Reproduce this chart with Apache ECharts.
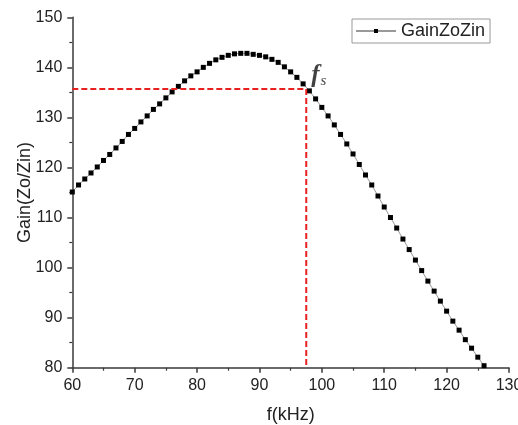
<!DOCTYPE html>
<html>
<head>
<meta charset="utf-8">
<script src="https://cdn.jsdelivr.net/npm/echarts@6/dist/echarts.min.js"></script>
<style>
html,body{margin:0;padding:0;background:#fff;}
#chart{width:518px;height:425px;}
</style>
</head>
<body>
<div id="chart"></div>
<script>
var freqs = [60,61,62,63,64,65,66,67,68,69,70,71,72,73,74,75,76,77,78,79,80,81,82,83,84,85,86,87,88,89,90,91,92,93,94,95,96,97,98,99,100,101,102,103,104,105,106,107,108,109,110,111,112,113,114,115,116,117,118,119,120,121,122,123,124,125,126];
var gainValues = [115.1,116.5,117.7,118.9,120.1,121.4,122.6,123.9,125.2,126.6,127.8,129.1,130.3,131.6,132.7,133.9,135.1,136.2,137.3,138.3,139.1,140.0,140.8,141.5,142.0,142.4,142.7,142.8,142.8,142.6,142.4,142.1,141.6,141.0,140.1,139.1,138.0,136.7,135.3,133.7,132.0,130.3,128.5,126.6,124.7,122.7,120.6,118.5,116.5,114.3,112.1,110.0,107.9,105.7,103.6,101.5,99.4,97.3,95.3,93.3,91.3,89.3,87.5,85.6,83.9,82.1,80.4];
var fsFreq = 97.5;
var fsGain = 135.7;
var xTicks = {min: 60, max: 130, step: 10};
var yTicks = {min: 80, max: 150, step: 10};
var seriesName = 'GainZoZin';

var gainData = freqs.map(function (f, i) { return [f, gainValues[i]]; });
var markerData = [[xTicks.min, fsGain], [fsFreq, fsGain], [fsFreq, yTicks.min]];

var chart = echarts.init(document.getElementById('chart'), null, {renderer: 'canvas'});
var axisCommon = {
  axisLine: {show: true, onZero: false, lineStyle: {color: '#3a3a3a', width: 1.5}},
  axisTick: {show: true, inside: false, length: 5, lineStyle: {color: '#3a3a3a', width: 1.5}},
  minorTick: {show: true, splitNumber: 2, length: 3, lineStyle: {color: '#3a3a3a', width: 1.2}},
  splitLine: {show: false},
  axisLabel: {color: '#222', fontSize: 16, fontFamily: 'Liberation Sans', margin: 10},
  nameLocation: 'middle',
  nameMoveOverlap: false,
  nameTextStyle: {color: '#222', fontSize: 18, fontFamily: 'Liberation Sans'}
};
var option = {
  backgroundColor: '#fff',
  animation: false,
  grid: {left: 72.3, right: 9, top: 17.3, bottom: 57.3, containLabel: false, outerBoundsMode: 'none'},
  legend: {
    data: [seriesName],
    left: 352, top: 19,
    itemWidth: 40, itemHeight: 5,
    itemGap: 6,
    padding: [3, 5, 3, 3],
    borderColor: '#999', borderWidth: 1,
    textStyle: {color: '#222', fontSize: 18, fontFamily: 'Liberation Sans'}
  },
  xAxis: Object.assign({}, axisCommon, {
    type: 'value', min: xTicks.min, max: xTicks.max, interval: xTicks.step,
    name: 'f(kHz)', nameGap: 38
  }),
  yAxis: Object.assign({}, axisCommon, {
    type: 'value', min: yTicks.min, max: yTicks.max, interval: yTicks.step,
    name: 'Gain(Zo/Zin)', nameGap: 38
  }),
  series: [
    {
      name: seriesName, type: 'line', data: gainData,
      symbol: 'rect', symbolSize: 5, showSymbol: true,
      lineStyle: {color: '#999', width: 1},
      itemStyle: {color: '#000'},
      z: 2
    },
    {
      name: 'fs', type: 'line', data: markerData,
      symbol: 'none', silent: true,
      lineStyle: {color: '#e82020', width: 2, type: [6, 3]},
      z: 3
    },
    {
      name: 'fsLabel', type: 'scatter', data: [[fsFreq, fsGain]],
      symbolSize: 0, silent: true,
      label: {
        show: true, position: 'right', distance: 5, offset: [0, -13],
        formatter: '{a|f}{b|s}',
        rich: {
          a: {fontFamily: 'Liberation Serif', fontStyle: 'italic', fontWeight: 'bold', fontSize: 25, color: '#111'},
          b: {fontFamily: 'Liberation Serif', fontStyle: 'italic', fontSize: 15, color: '#111', padding: [10, 0, 0, 1]}
        }
      },
      z: 4
    }
  ]
};
chart.setOption(option);
</script>
</body>
</html>
